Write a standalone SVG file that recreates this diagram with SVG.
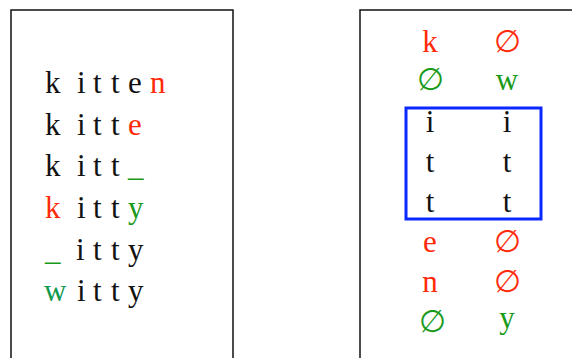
<svg xmlns="http://www.w3.org/2000/svg" width="572" height="358" viewBox="0 0 572 358">
  <style>
    .frame { fill: #ffffff; stroke: #111111; stroke-width: 1.5; }
    .ch { font-family: "Liberation Serif", "DejaVu Serif", serif; font-size: 31px; fill: #111111; }
    .mid { text-anchor: middle; }
    .del { fill: #ff2a0a; }
    .ins { fill: #1a9a1a; }
    .ins2 { fill: #0f9a50; }
    .match { fill: none; stroke: #0a28ff; stroke-width: 3; }
  </style>
  <rect width="572" height="358" fill="#ffffff"/>

  <!-- left panel: edit sequence kitten to witty -->
  <g id="left-panel">
    <rect class="frame" x="11" y="10" width="222" height="360"/>
    <text class="ch" y="93"><tspan x="45">k</tspan><tspan x="77">i</tspan><tspan x="93">t</tspan><tspan x="111">t</tspan><tspan x="128">e</tspan><tspan x="150" class="del">n</tspan></text>
    <text class="ch" y="135"><tspan x="45">k</tspan><tspan x="77">i</tspan><tspan x="93">t</tspan><tspan x="111">t</tspan><tspan x="128" class="del">e</tspan></text>
    <text class="ch" y="176"><tspan x="45">k</tspan><tspan x="77">i</tspan><tspan x="93">t</tspan><tspan x="111">t</tspan></text>
    <text class="ch" y="218"><tspan x="45" class="del">k</tspan><tspan x="77">i</tspan><tspan x="93">t</tspan><tspan x="111">t</tspan><tspan x="128" class="ins">y</tspan></text>
    <text class="ch" y="260"><tspan x="76">i</tspan><tspan x="93">t</tspan><tspan x="111">t</tspan><tspan x="128">y</tspan></text>
    <text class="ch" y="301"><tspan x="44" class="ins2">w</tspan><tspan x="77">i</tspan><tspan x="93">t</tspan><tspan x="111">t</tspan><tspan x="128">y</tspan></text>
    <!-- gap marks (underscores) -->
    <text class="ch ins" x="128" y="176">_</text>
    <text class="ch ins" x="45" y="260">_</text>
  </g>

  <!-- right panel: character alignment -->
  <g id="right-panel">
    <rect class="frame" x="360" y="10" width="230" height="360"/>
    <text class="ch mid del" x="430" y="52">k</text>
    <text class="ch mid del" x="507" y="52">∅</text>
    <text class="ch mid ins" x="430" y="90">∅</text>
    <text class="ch mid ins" x="507" y="90">w</text>
    <text class="ch mid" x="430" y="132">i</text>
    <text class="ch mid" x="507" y="132">i</text>
    <text class="ch mid" x="430" y="172">t</text>
    <text class="ch mid" x="507" y="172">t</text>
    <text class="ch mid" x="430" y="212">t</text>
    <text class="ch mid" x="507" y="212">t</text>
    <text class="ch mid del" x="430" y="252">e</text>
    <text class="ch mid del" x="507" y="252">∅</text>
    <text class="ch mid del" x="430" y="292">n</text>
    <text class="ch mid del" x="507" y="292">∅</text>
    <text class="ch mid ins" x="432" y="332">∅</text>
    <text class="ch mid ins" x="507" y="328">y</text>
  </g>

  <!-- matched block -->
  <g id="match-box">
    <rect class="match" x="406" y="108" width="135" height="111"/>
  </g>
</svg>
